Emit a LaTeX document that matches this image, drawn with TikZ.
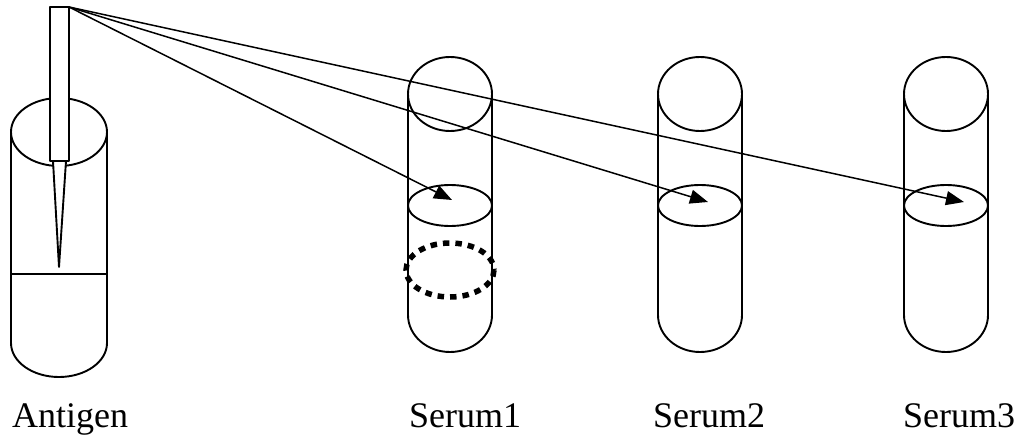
\documentclass[tikz,border=0pt]{standalone}
\usepackage{fontspec}
\setmainfont{Liberation Serif}
\usetikzlibrary{arrows.meta}
\begin{document}
\begin{tikzpicture}[x=1pt,y=-1pt,
  outline/.style={line width=1.9pt,line join=round},
  ray/.style={line width=1.5pt},
  shot/.style={ray,-{Triangle[length=18pt,width=14pt]}},
  label/.style={anchor=base west,inner sep=0pt,font=\fontsize{36pt}{40pt}\selectfont},
  ring/.style={line width=5.5pt,dash pattern=on 6.5pt off 6pt}]
\useasboundingbox (0,0) rectangle (1014,434);

% antigen tube with its liquid level
\draw[outline] (11,132) -- (11,343) arc[start angle=180,end angle=0,x radius=48,y radius=34] -- (107,132);
\draw[outline] (59,132) ellipse[x radius=48,y radius=34];
\draw[line width=1.2pt] (11,274) -- (107,274);

% pipette body and tip
\draw[outline,fill=white] (53,161) -- (59,267) -- (66,161) -- cycle;
\draw[outline,fill=white] (50,7) rectangle (69,161);
\coordinate (src) at (69,7);

% serum tubes: body, mouth and liquid surface
\foreach \cx/\nm in {450/one,700/two,946/three}{
  \draw[outline] (\cx-42,94) -- (\cx-42,315) arc[start angle=180,end angle=0,x radius=42,y radius=37] -- (\cx+42,94);
  \draw[outline] (\cx,94) ellipse[x radius=42,y radius=37];
  \draw[outline] (\cx,205.5) ellipse[x radius=42,y radius=20.5];
}

% precipitation ring in the first serum tube
\draw[ring] (450,270) ellipse[x radius=44,y radius=27];

% transfers from the pipette into each serum
\coordinate (dropone) at (452,200);
\coordinate (droptwo) at (708,202);
\coordinate (dropthree) at (964,202);
\draw[shot] (src) -- (dropone);
\draw[shot] (src) -- (droptwo);
\draw[shot] (src) -- (dropthree);

% captions
\node[label] (antigen) at (12,427) {Antigen};
\node[label] (serumone) at (409,427) {Serum1};
\node[label] (serumtwo) at (653,427) {Serum2};
\node[label] (serumthree) at (903,427) {Serum3};
\end{tikzpicture}
\end{document}
